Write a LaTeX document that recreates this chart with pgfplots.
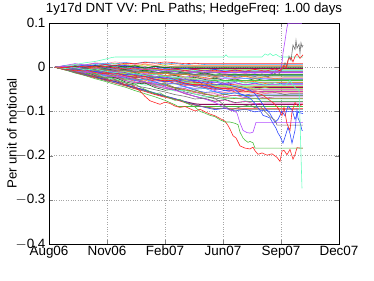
\documentclass[border=0pt]{standalone}
\usepackage{fontspec}
\setmainfont{Liberation Sans}
\usepackage{pgfplots}
\pgfplotsset{compat=1.18}
\definecolor{cR}{rgb}{1,0.15,0.15}
\definecolor{cG}{rgb}{0.3,0.75,0.25}
\definecolor{cB}{rgb}{0.2,0.3,1}
\definecolor{cV}{rgb}{0.7,0.3,1}
\definecolor{cQ}{rgb}{0.4,1,0.75}
\definecolor{cK}{rgb}{0.45,0.45,0.45}
\definecolor{cY}{rgb}{0.7,0.9,0.2}
\definecolor{cD}{rgb}{0.1,0.45,0.15}
\definecolor{cM}{rgb}{0.55,0.05,0.35}
\definecolor{cO}{rgb}{1,0.5,0.15}
\definecolor{cP}{rgb}{0.9,0.25,0.75}
\definecolor{cS}{rgb}{0.25,0.65,1}
\definecolor{cL}{rgb}{0.55,0.55,0.15}
\definecolor{cN}{rgb}{1,0.55,0.65}
\newcommand{\pth}[2]{\addplot[#1] coordinates {#2};}
\newcommand{\mn}[1]{\mbox{\ensuremath{-}#1}}
\begin{document}
\begin{tikzpicture}
\begin{axis}[
 scale only axis, width=290bp, height=221bp,
 xmin=49, xmax=339, ymin=-0.4, ymax=0.1,
 xtick={49,107,165,223,281,339},
 xticklabels={Aug06,Nov06,Feb07,Jun07,Sep07,Dec07},
 ytick={-0.4,-0.3,-0.2,-0.1,0,0.1},
 yticklabels={\mn{0.4},\mn{0.3},\mn{0.2},\mn{0.1},\mbox{0},\mbox{0.1}},
 grid=major, grid style={dash pattern=on 0.6pt off 1.8pt, black!35, line width=0.4pt},
 tick align=inside, major tick length=4bp,
 axis line style={line width=0.5pt},
 font=\fontsize{13.3}{15}\selectfont,
 every tick label/.append style={font=\fontsize{13.5}{15}\selectfont},
 xticklabel style={anchor=base, yshift=-11bp},
 title={1y17d DNT VV: PnL Paths; HedgeFreq: 1.00 days},
 title style={at={(axis description cs:0.5,1)}, anchor=base, yshift=5bp, font=\fontsize{13.3}{15}\selectfont},
 ylabel={Per unit of notional},
 ylabel style={at={(axis description cs:-0.128,0.5)}, anchor=center, font=\fontsize{13.3}{15}\selectfont},
 every axis plot/.append style={line width=0.6pt, mark=none},
]
\coordinate (ll) at (rel axis cs:0,0);
\coordinate (ur) at (rel axis cs:1,1);
% band paths
\pth{cO}{(55,0)(65,.002)(75,-.001)(85,.003)(95,.001)(105,.005)(115,.002)(125,.006)(135,.003)(145,.007)(155,.004)(165,.008)(175,.005)(185,.004)(303,.004)}
\pth{cY}{(55,0)(65,.003)(75,.006)(85,.004)(95,.008)(105,.005)(115,.009)(125,.006)(135,.003)(145,.005)(155,.001)(165,.004)(175,0)(185,-.003)(195,.001)(205,-.002)(215,-.004)(225,-.001)(235,-.003)(240,-.002)(303,-.002)}
\pth{cS}{(55,0)(65,-.002)(75,.002)(85,-.001)(95,.003)(105,0)(115,-.003)(125,.001)(135,-.002)(145,-.005)(155,-.002)(165,-.006)(175,-.003)(185,-.007)(195,-.004)(205,-.008)(215,-.005)(220,-.006)(303,-.006)}
\pth{cR}{(55,0)(65,-.003)(75,-.001)(85,-.005)(95,-.002)(105,-.006)(115,-.003)(125,-.007)(135,-.004)(145,-.008)(155,-.006)(165,-.010)(175,-.007)(185,-.011)(195,-.009)(205,-.012)(210,-.010)(303,-.010)}
\pth{cP}{(55,0)(65,.001)(75,-.003)(85,.001)(95,-.003)(105,-.002)(115,-.007)(125,-.005)(135,-.004)(145,-.009)(155,-.006)(165,-.011)(175,-.009)(185,-.008)(195,-.012)(205,-.015)(215,-.012)(225,-.014)(235,-.011)(245,-.014)(255,-.012)(260,-.013)(303,-.013)}
\pth{cG}{(55,0)(65,-.004)(75,0)(85,-.005)(95,-.003)(105,-.008)(115,-.005)(125,-.010)(135,-.008)(145,-.013)(155,-.010)(165,-.015)(175,-.013)(180,-.016)(303,-.016)}
\pth{cB}{(55,0)(65,.002)(75,-.004)(85,-.001)(95,-.006)(105,-.004)(115,-.009)(125,-.006)(135,-.011)(145,-.009)(155,-.014)(165,-.012)(175,-.017)(185,-.014)(195,-.019)(205,-.016)(215,-.021)(225,-.018)(230,-.019)(303,-.019)}
\pth{cL}{(55,0)(65,-.001)(75,-.005)(85,-.002)(95,-.008)(105,-.005)(115,-.011)(125,-.008)(135,-.013)(145,-.010)(155,-.016)(165,-.013)(175,-.019)(185,-.016)(195,-.022)(205,-.019)(215,-.024)(225,-.020)(235,-.023)(245,-.020)(250,-.022)(303,-.022)}
\pth{cV}{(55,0)(65,.003)(75,-.002)(85,-.006)(95,-.004)(105,-.009)(115,-.007)(125,-.012)(135,-.010)(145,-.015)(155,-.013)(165,-.019)(175,-.017)(185,-.022)(195,-.020)(200,-.025)(303,-.025)}
\pth{cD}{(55,0)(65,-.004)(75,-.002)(85,-.007)(95,-.005)(105,-.011)(115,-.009)(125,-.014)(135,-.012)(145,-.018)(155,-.016)(165,-.021)(175,-.019)(185,-.025)(195,-.023)(205,-.028)(215,-.025)(225,-.030)(235,-.027)(245,-.031)(255,-.026)(265,-.030)(270,-.028)(303,-.028)}
\pth{cN}{(55,0)(65,-.002)(75,-.006)(85,-.003)(95,-.009)(105,-.007)(115,-.013)(125,-.011)(135,-.017)(145,-.015)(155,-.021)(165,-.019)(175,-.025)(185,-.023)(195,-.028)(205,-.026)(215,-.031)(303,-.031)}
\pth{cK}{(55,0)(65,-.003)(75,-.001)(85,-.007)(95,-.010)(105,-.008)(115,-.014)(125,-.012)(135,-.018)(145,-.016)(155,-.022)(165,-.025)(175,-.023)(185,-.029)(195,-.027)(205,-.033)(215,-.031)(225,-.036)(235,-.032)(245,-.034)(303,-.034)}
\pth{cB}{(55,0)(65,-.001)(75,-.005)(85,-.009)(95,-.007)(105,-.012)(115,-.015)(125,-.013)(135,-.019)(145,-.022)(155,-.020)(165,-.026)(175,-.029)(185,-.027)(195,-.033)(205,-.036)(215,-.034)(225,-.039)(235,-.035)(245,-.040)(255,-.036)(265,-.041)(275,-.035)(280,-.037)(303,-.037)}
\pth{cR}{(55,0)(65,-.004)(75,-.002)(85,-.008)(95,-.011)(105,-.009)(115,-.016)(125,-.019)(135,-.017)(145,-.024)(155,-.027)(165,-.025)(175,-.032)(185,-.035)(195,-.033)(205,-.039)(215,-.042)(225,-.038)(235,-.040)(303,-.040)}
\pth{cY}{(55,0)(65,-.002)(75,-.007)(85,-.005)(95,-.012)(105,-.015)(115,-.013)(125,-.020)(135,-.023)(145,-.021)(155,-.028)(165,-.031)(175,-.029)(185,-.036)(195,-.039)(205,-.043)(303,-.043)}
\pth{cM}{(55,0)(65,-.003)(75,-.008)(85,-.006)(95,-.013)(105,-.016)(115,-.014)(125,-.021)(135,-.024)(145,-.022)(155,-.030)(165,-.033)(175,-.031)(185,-.039)(195,-.042)(205,-.040)(215,-.046)(225,-.049)(235,-.044)(245,-.048)(255,-.046)(303,-.046)}
\pth{cS}{(55,0)(65,-.005)(75,-.003)(85,-.010)(95,-.013)(105,-.011)(115,-.019)(125,-.022)(135,-.020)(145,-.028)(155,-.031)(165,-.029)(175,-.037)(185,-.040)(195,-.038)(205,-.046)(215,-.050)(225,-.049)(303,-.049)}
\pth{cG}{(55,0)(65,-.002)(75,-.008)(85,-.011)(95,-.009)(105,-.017)(115,-.020)(125,-.018)(135,-.026)(145,-.029)(155,-.027)(165,-.035)(175,-.038)(185,-.036)(195,-.044)(205,-.048)(215,-.046)(225,-.053)(235,-.050)(245,-.055)(255,-.049)(265,-.052)(303,-.052)}
\pth{cV}{(55,0)(65,-.004)(75,-.009)(85,-.007)(95,-.014)(105,-.018)(115,-.016)(125,-.024)(135,-.028)(145,-.026)(155,-.034)(165,-.038)(175,-.036)(185,-.044)(195,-.048)(205,-.046)(215,-.053)(225,-.057)(235,-.052)(240,-.055)(303,-.055)}
\pth{cO}{(55,0)(65,-.005)(75,-.010)(85,-.008)(95,-.016)(105,-.020)(115,-.018)(125,-.027)(135,-.031)(145,-.029)(155,-.038)(165,-.042)(175,-.046)(185,-.052)(195,-.058)(303,-.058)}
\pth{cB}{(55,0)(65,-.003)(75,-.009)(85,-.013)(95,-.011)(105,-.019)(115,-.024)(125,-.022)(135,-.030)(145,-.035)(155,-.033)(165,-.041)(175,-.046)(185,-.044)(195,-.052)(205,-.057)(215,-.055)(225,-.062)(235,-.058)(245,-.063)(250,-.061)(303,-.061)}
\pth{cL}{(55,0)(65,-.006)(75,-.004)(85,-.012)(95,-.017)(105,-.015)(115,-.024)(125,-.029)(135,-.027)(145,-.036)(155,-.041)(165,-.039)(175,-.048)(185,-.053)(195,-.051)(205,-.060)(215,-.065)(225,-.061)(230,-.064)(303,-.064)}
\pth{cP}{(55,0)(65,-.004)(75,-.010)(85,-.014)(95,-.012)(105,-.021)(115,-.026)(125,-.024)(135,-.033)(145,-.038)(155,-.036)(165,-.045)(175,-.050)(185,-.048)(195,-.057)(205,-.062)(215,-.060)(225,-.067)(235,-.063)(245,-.069)(255,-.064)(265,-.070)(275,-.067)(303,-.067)}
\pth{cK}{(55,0)(65,-.005)(75,-.011)(85,-.009)(95,-.018)(105,-.023)(115,-.021)(125,-.030)(135,-.035)(145,-.033)(155,-.043)(165,-.048)(175,-.046)(185,-.056)(195,-.061)(205,-.065)(215,-.072)(220,-.070)(303,-.070)}
\pth{cQ}{(55,0)(65,-.003)(75,-.009)(85,-.015)(95,-.013)(105,-.022)(115,-.028)(125,-.026)(135,-.035)(145,-.041)(155,-.039)(165,-.048)(175,-.054)(185,-.052)(195,-.061)(205,-.067)(215,-.065)(225,-.072)(235,-.068)(245,-.075)(255,-.071)(260,-.074)(303,-.074)}
\pth{cD}{(55,0)(65,-.006)(75,-.012)(85,-.010)(95,-.019)(105,-.025)(115,-.023)(125,-.033)(135,-.038)(145,-.036)(155,-.046)(165,-.052)(175,-.050)(185,-.060)(195,-.066)(205,-.071)(215,-.077)(225,-.073)(235,-.080)(245,-.078)(303,-.078)}
\pth{cM,line width=1pt}{(55,0)(65,-.004)(75,-.012)(85,-.016)(95,-.022)(105,-.028)(115,-.032)(125,-.040)(135,-.046)(145,-.052)(155,-.060)(165,-.066)(175,-.072)(185,-.078)(195,-.083)(200,-.084)(303,-.084)}
\pth{cG}{(55,0)(65,-.006)(75,-.013)(85,-.019)(95,-.026)(105,-.032)(115,-.039)(125,-.045)(135,-.053)(145,-.060)(155,-.067)(165,-.075)(175,-.085)(178,-.089)(303,-.089)}
\pth{cR}{(55,0)(65,-.005)(75,-.011)(85,-.018)(95,-.024)(105,-.029)(115,-.036)(125,-.042)(135,-.049)(145,-.055)(155,-.062)(165,-.068)(175,-.073)(185,-.080)(195,-.086)(205,-.090)(215,-.093)(303,-.093)}
\pth{cB}{(55,0)(65,-.004)(75,-.010)(85,-.016)(95,-.021)(105,-.027)(115,-.033)(125,-.039)(135,-.046)(145,-.052)(155,-.058)(165,-.065)(175,-.071)(185,-.078)(195,-.085)(205,-.091)(215,-.096)(225,-.093)(235,-.099)(245,-.095)(255,-.101)(265,-.097)(270,-.100)(303,-.100)}
\pth{cN}{(55,0)(65,.003)(75,.007)(85,.005)(95,.010)(105,.008)(115,.012)(125,.009)(135,.006)(145,.008)(155,.004)(160,.002)(303,.002)}
\pth{cQ}{(55,0)(65,.002)(75,.001)(85,.005)(95,.002)(105,.004)(115,.001)(125,-.002)(135,.001)(145,-.003)(155,-.005)(165,-.006)(170,-.008)(303,-.008)}
\pth{cV}{(55,0)(65,.004)(75,.008)(85,.005)(95,.009)(105,.006)(115,.003)(125,.005)(135,.001)(145,-.002)(155,-.004)(165,-.007)(175,-.010)(185,-.012)(303,-.012)}
\pth{cY}{(55,0)(65,-.003)(75,.001)(85,-.002)(95,-.004)(105,-.001)(115,-.005)(125,-.002)(135,-.006)(145,-.003)(150,-.005)(303,-.005)}
\pth{cS}{(55,0)(65,.002)(75,0)(85,.004)(95,.001)(105,-.002)(115,-.004)(125,-.001)(135,-.005)(145,-.008)(155,-.006)(165,-.011)(175,-.014)(185,-.012)(195,-.017)(205,-.020)(215,-.018)(225,-.023)(235,-.021)(245,-.026)(255,-.024)(265,-.027)(303,-.027)}
\pth{cO}{(55,0)(65,-.002)(75,.001)(85,-.004)(95,-.002)(105,-.007)(115,-.010)(125,-.008)(135,-.013)(145,-.011)(155,-.016)(165,-.019)(175,-.017)(185,-.022)(195,-.025)(205,-.023)(215,-.028)(225,-.031)(235,-.029)(245,-.034)(255,-.032)(265,-.037)(275,-.035)(303,-.035)}
\pth{cR}{(55,0)(65,-.003)(75,-.006)(85,-.004)(95,-.009)(105,-.012)(115,-.010)(125,-.016)(135,-.019)(145,-.017)(155,-.023)(165,-.027)(175,-.025)(185,-.031)(195,-.035)(205,-.033)(215,-.039)(225,-.042)(235,-.040)(245,-.046)(255,-.044)(303,-.044)}
\pth{cG}{(55,0)(65,.001)(75,-.002)(85,.002)(95,-.001)(105,-.004)(115,-.002)(125,-.006)(135,-.004)(145,-.008)(155,-.006)(165,-.010)(175,-.008)(185,-.012)(195,-.010)(205,-.014)(215,-.012)(225,-.017)(235,-.015)(245,-.019)(255,-.016)(265,-.021)(275,-.018)(285,-.020)(303,-.020)}
\pth{cP}{(55,0)(65,-.002)(75,-.007)(85,-.005)(95,-.011)(105,-.014)(115,-.012)(125,-.019)(135,-.022)(145,-.020)(155,-.027)(165,-.031)(175,-.029)(185,-.036)(195,-.040)(205,-.043)(215,-.048)(225,-.046)(230,-.050)(303,-.050)}
\pth{cK}{(55,0)(65,-.004)(75,-.002)(85,-.008)(95,-.011)(105,-.009)(115,-.016)(125,-.019)(135,-.017)(145,-.024)(155,-.028)(165,-.026)(175,-.033)(185,-.037)(195,-.035)(205,-.042)(215,-.046)(225,-.044)(235,-.051)(245,-.055)(255,-.053)(265,-.059)(275,-.057)(285,-.062)(290,-.060)(303,-.060)}
% more band paths
\pth{cS}{(55,0)(65,.001)(75,.004)(85,.002)(95,.006)(105,.009)(115,.007)(125,.011)(135,.008)(145,.012)(155,.010)(165,.007)(175,.009)(185,.005)(195,.008)(205,.006)(303,.006)}
\pth{cM}{(55,0)(65,-.002)(75,.002)(85,0)(95,.004)(105,.001)(115,-.002)(125,.002)(135,-.001)(145,.001)(155,-.003)(165,-.001)(175,-.003)(303,-.003)}
\pth{cB}{(55,0)(65,.003)(75,.001)(85,.005)(95,.003)(105,.006)(115,.002)(125,.004)(135,0)(145,-.002)(155,.001)(165,-.003)(175,-.005)(185,-.002)(195,-.006)(205,-.008)(215,-.005)(225,-.009)(235,-.007)(245,-.010)(250,-.009)(303,-.009)}
\pth{cD}{(55,0)(65,-.001)(75,-.004)(85,-.002)(95,-.006)(105,-.003)(115,-.007)(125,-.005)(135,-.009)(145,-.007)(155,-.011)(165,-.013)(175,-.010)(185,-.014)(195,-.016)(205,-.013)(215,-.018)(225,-.017)(303,-.017)}
\pth{cO}{(55,0)(65,-.003)(75,-.001)(85,-.005)(95,-.003)(105,-.008)(115,-.006)(125,-.010)(135,-.008)(145,-.012)(155,-.015)(165,-.013)(175,-.017)(185,-.015)(195,-.019)(205,-.017)(215,-.021)(225,-.019)(235,-.023)(245,-.021)(255,-.025)(265,-.022)(275,-.026)(285,-.024)(303,-.024)}
\pth{cG}{(55,0)(65,-.003)(75,-.007)(85,-.005)(95,-.010)(105,-.008)(115,-.013)(125,-.016)(135,-.014)(145,-.019)(155,-.022)(165,-.020)(175,-.025)(185,-.028)(190,-.030)(303,-.030)}
\pth{cV}{(55,0)(65,-.002)(75,-.005)(85,-.003)(95,-.008)(105,-.011)(115,-.009)(125,-.014)(135,-.017)(145,-.015)(155,-.021)(165,-.024)(175,-.022)(185,-.028)(195,-.031)(205,-.029)(215,-.034)(225,-.037)(235,-.035)(245,-.040)(255,-.037)(260,-.039)(303,-.039)}
\pth{cQ}{(55,0)(65,-.004)(75,-.007)(85,-.005)(95,-.011)(105,-.014)(115,-.012)(125,-.018)(135,-.021)(145,-.019)(155,-.026)(165,-.029)(175,-.027)(185,-.034)(195,-.037)(205,-.039)(215,-.042)(303,-.042)}
\pth{cY}{(55,0)(65,-.001)(75,-.006)(85,-.009)(95,-.007)(105,-.013)(115,-.016)(125,-.014)(135,-.021)(145,-.024)(155,-.022)(165,-.029)(175,-.032)(185,-.030)(195,-.037)(205,-.040)(215,-.038)(225,-.044)(235,-.047)(245,-.045)(255,-.050)(265,-.046)(270,-.048)(303,-.048)}
\pth{cR}{(55,0)(65,-.005)(75,-.003)(85,-.009)(95,-.013)(105,-.011)(115,-.018)(125,-.022)(135,-.020)(145,-.027)(155,-.031)(165,-.029)(175,-.037)(185,-.041)(195,-.039)(205,-.046)(215,-.050)(225,-.048)(235,-.056)(245,-.054)(303,-.054)}
\pth{cN}{(55,0)(65,-.003)(75,-.008)(85,-.006)(95,-.012)(105,-.016)(115,-.014)(125,-.021)(135,-.025)(145,-.023)(155,-.030)(165,-.034)(175,-.032)(185,-.039)(195,-.043)(205,-.041)(215,-.048)(225,-.052)(235,-.050)(245,-.056)(255,-.053)(265,-.060)(275,-.056)(280,-.058)(303,-.058)}
\pth{cS}{(55,0)(65,-.004)(75,-.010)(85,-.008)(95,-.015)(105,-.019)(115,-.017)(125,-.025)(135,-.029)(145,-.027)(155,-.035)(165,-.039)(175,-.037)(185,-.045)(195,-.050)(205,-.048)(215,-.056)(225,-.060)(235,-.058)(245,-.066)(255,-.065)(303,-.065)}
\pth{cL}{(55,0)(65,-.006)(75,-.004)(85,-.011)(95,-.016)(105,-.014)(115,-.022)(125,-.027)(135,-.025)(145,-.034)(155,-.039)(165,-.037)(175,-.046)(185,-.051)(195,-.055)(205,-.061)(215,-.066)(225,-.069)(235,-.071)(303,-.071)}
\pth{cP}{(55,0)(65,-.005)(75,-.011)(85,-.009)(95,-.017)(105,-.023)(115,-.021)(125,-.030)(135,-.035)(145,-.033)(155,-.043)(165,-.048)(175,-.052)(185,-.060)(195,-.066)(205,-.072)(215,-.078)(225,-.074)(235,-.081)(245,-.077)(255,-.083)(265,-.081)(303,-.081)}
\pth{cK}{(55,0)(65,-.005)(75,-.012)(85,-.018)(95,-.023)(105,-.030)(115,-.035)(125,-.041)(135,-.048)(145,-.054)(155,-.060)(165,-.066)(175,-.072)(185,-.079)(195,-.085)(205,-.090)(215,-.094)(225,-.092)(235,-.097)(240,-.096)(303,-.096)}
% top paths
\pth{cQ}{(55,0)(65,.003)(75,.006)(85,.010)(95,.013)(105,.018)(112,.022)(115,.023)(224,.023)(226,.028)(228,.023)(262,.023)(265,.030)(268,.027)(270,.031)(273,.026)(276,.029)(280,.023)(303,.023)}
\pth{cD,line width=1pt}{(55,0)(65,-.003)(75,.002)(85,-.002)(95,.003)(105,-.001)(115,.004)(125,0)(135,.003)(145,-.002)(155,.002)(165,-.001)(170,0)(303,0)}
\pth{cR}{(55,0)(65,.002)(75,-.002)(85,.003)(95,.001)(105,.006)(115,.004)(125,.009)(135,.008)(145,.011)(155,.009)(165,.012)(175,.010)(185,.008)(195,.009)(200,.008)(303,.008)}
% detailed lower paths
\pth{cR}{(55,0)(60,-.002)(65,-.006)(70,-.004)(75,-.010)(80,-.014)(85,-.012)(90,-.018)(95,-.022)(100,-.020)(105,-.026)(110,-.030)(115,-.028)(120,-.034)(125,-.040)(130,-.038)(135,-.045)(140,-.054)(145,-.066)(150,-.076)(155,-.080)(160,-.084)(165,-.079)(170,-.082)(175,-.088)(180,-.091)(185,-.089)(190,-.094)(195,-.099)(200,-.095)(205,-.101)(210,-.106)(215,-.110)(220,-.116)(225,-.122)(228,-.132)(230,-.140)(233,-.155)(236,-.160)(240,-.178)(245,-.183)(250,-.185)(253,-.181)(255,-.189)(258,-.197)(262,-.194)(267,-.199)(272,-.196)(277,-.204)(280,-.213)(282,-.190)(284,-.188)(287,-.198)(290,-.186)(293,-.208)(295,-.198)(297,-.182)(300,-.183)(303,-.183)}
\pth{cG}{(55,0)(60,-.003)(65,-.002)(70,-.007)(75,-.009)(80,-.008)(85,-.013)(90,-.016)(95,-.014)(100,-.020)(105,-.024)(110,-.022)(115,-.028)(120,-.031)(125,-.035)(130,-.040)(135,-.038)(140,-.045)(145,-.050)(150,-.055)(155,-.060)(160,-.058)(165,-.065)(170,-.070)(175,-.075)(180,-.073)(185,-.080)(190,-.085)(195,-.090)(200,-.100)(205,-.104)(210,-.109)(215,-.112)(220,-.119)(225,-.124)(230,-.124)(235,-.127)(238,-.130)(240,-.147)(243,-.160)(245,-.165)(248,-.170)(250,-.168)(253,-.171)(255,-.183)(303,-.183)}
\pth{cV}{(55,0)(65,-.003)(75,-.008)(85,-.012)(95,-.010)(105,-.017)(115,-.022)(125,-.020)(135,-.028)(145,-.033)(155,-.038)(165,-.045)(175,-.052)(185,-.058)(195,-.066)(205,-.072)(215,-.080)(222,-.088)(230,-.097)(235,-.100)(237,-.104)(240,-.126)(243,-.143)(247,-.148)(250,-.149)(253,-.147)(256,-.125)(303,-.125)}
\pth{cB}{(55,0)(65,-.002)(75,-.006)(85,-.004)(95,-.010)(105,-.014)(115,-.012)(125,-.019)(135,-.023)(145,-.021)(155,-.028)(165,-.033)(175,-.031)(185,-.038)(195,-.043)(205,-.041)(215,-.048)(225,-.053)(235,-.051)(240,-.060)(245,-.065)(250,-.070)(255,-.082)(258,-.092)(260,-.097)(263,-.109)(267,-.112)(270,-.115)(273,-.127)(276,-.138)(278,-.149)(280,-.156)(283,-.172)(285,-.158)(288,-.136)(290,-.150)(292,-.172)(295,-.143)(297,-.097)(298,-.115)(300,-.125)(302,-.143)(303,-.143)}
\pth{cB}{(55,0)(65,-.004)(75,-.002)(85,-.007)(95,-.010)(105,-.008)(115,-.014)(125,-.017)(135,-.015)(145,-.021)(155,-.024)(165,-.022)(175,-.028)(185,-.032)(195,-.030)(205,-.036)(215,-.040)(225,-.038)(235,-.044)(245,-.048)(250,-.052)(255,-.060)(260,-.075)(265,-.092)(270,-.105)(275,-.125)(278,-.118)(282,-.100)(285,-.110)(288,-.088)(292,-.097)(295,-.118)(298,-.102)(303,-.105)}
\pth{cK}{(55,0)(65,-.005)(75,-.010)(85,-.015)(95,-.020)(105,-.025)(115,-.030)(125,-.036)(135,-.042)(145,-.046)(155,-.051)(165,-.056)(175,-.062)(185,-.066)(195,-.072)(205,-.070)(213,-.068)(220,-.078)(230,-.097)(240,-.090)(250,-.085)(255,-.092)(260,-.088)(265,-.100)(270,-.112)(275,-.120)(277,-.131)(303,-.131)}
\pth{cR}{(55,0)(65,-.004)(75,-.008)(85,-.006)(95,-.012)(105,-.015)(115,-.013)(125,-.019)(135,-.023)(145,-.021)(155,-.027)(165,-.031)(175,-.029)(185,-.036)(195,-.040)(205,-.038)(215,-.045)(225,-.049)(235,-.047)(245,-.054)(255,-.058)(262,-.062)(268,-.072)(273,-.080)(278,-.092)(282,-.110)(284,-.090)(287,-.128)(290,-.143)(292,-.100)(295,-.080)(298,-.088)(303,-.084)}
% end-chaos paths
\pth{cK}{(55,0)(65,-.002)(75,-.005)(85,-.003)(95,-.007)(105,-.005)(115,-.009)(125,-.007)(135,-.011)(145,-.009)(155,-.013)(165,-.011)(175,-.015)(185,-.013)(195,-.017)(205,-.015)(215,-.019)(225,-.016)(235,-.020)(245,-.017)(255,-.021)(262,-.015)(268,-.022)(273,-.012)(278,-.018)(282,-.005)(285,.010)(287,.002)(289,.025)(291,.015)(293,.050)(295,.040)(296,.061)(297,.043)(299,.052)(300,.032)(301,.055)(302,.045)(303,.050)}
\pth{cV}{(55,0)(65,.002)(75,-.002)(85,.001)(95,-.003)(105,-.001)(115,-.005)(125,-.003)(135,-.007)(145,-.004)(155,-.008)(165,-.006)(175,-.010)(185,-.007)(195,-.011)(205,-.008)(215,-.012)(225,-.009)(235,-.013)(245,-.010)(255,-.014)(265,-.008)(272,-.015)(277,-.005)(280,-.010)(282,.009)(283,.032)(285,.060)(287,.090)(288,.099)(302,.099)}
\pth{cQ}{(55,0)(65,-.003)(75,-.001)(85,-.006)(95,-.004)(105,-.009)(115,-.012)(125,-.010)(135,-.015)(145,-.018)(155,-.016)(165,-.021)(175,-.024)(185,-.022)(195,-.027)(205,-.030)(215,-.028)(225,-.033)(235,-.031)(245,-.036)(255,-.034)(265,-.039)(275,-.035)(285,-.042)(290,-.030)(295,-.046)(299,-.052)(300,-.120)(301,-.200)(302,-.274)}
\pth{cR}{(55,0)(65,-.001)(75,.003)(85,.001)(95,-.002)(105,.002)(115,-.001)(125,-.004)(135,-.002)(145,-.005)(155,-.003)(165,-.006)(175,-.004)(185,-.008)(195,-.005)(205,-.009)(215,-.007)(225,-.010)(235,-.006)(245,-.009)(255,-.005)(265,-.009)(275,-.004)(280,-.008)(284,.004)(286,-.002)(288,.016)(291,.022)(293,.012)(295,.024)(297,.030)(300,.020)(303,.028)}
\end{axis}
\pgfresetboundingbox
\path[use as bounding box] ([xshift=-49bp,yshift=-37bp]ll) rectangle ([xshift=35bp,yshift=23bp]ur);
\end{tikzpicture}
\end{document}
